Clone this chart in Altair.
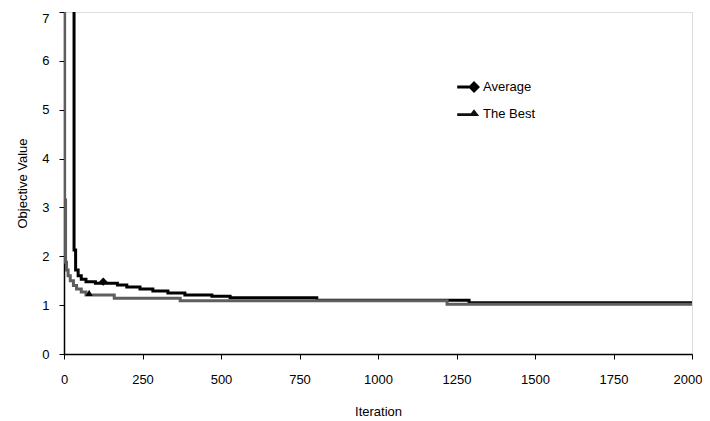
import altair as alt
import pandas as pd

# Step change points (iteration, objective value)
avg_iter = [0, 32, 37, 45, 55, 70, 100, 170, 200, 242, 283, 331, 385, 471, 529, 805, 1290, 2000]
avg_val = [40, 2.13, 1.72, 1.60, 1.53, 1.48, 1.45, 1.41, 1.37, 1.33, 1.29, 1.25, 1.21, 1.18, 1.15, 1.10, 1.05, 1.05]

best_iter = [0, 2, 5, 8, 13, 20, 30, 40, 55, 70, 160, 370, 1220, 2000]
best_val = [40, 3.15, 1.88, 1.72, 1.60, 1.50, 1.40, 1.33, 1.27, 1.21, 1.14, 1.09, 1.02, 1.02]

series = ["Average", "The Best"]
colors = ["#000000", "#5e5e5e"]
marker_iter = [125, 80]
marker_val = [1.48, 1.25]

x_ticks = [0, 250, 500, 750, 1000, 1250, 1500, 1750, 2000]
y_ticks = [0, 1, 2, 3, 4, 5, 6, 7]

avg_df = pd.DataFrame({"Iteration": avg_iter, "Value": avg_val})
best_df = pd.DataFrame({"Iteration": best_iter, "Value": best_val})
markers = pd.DataFrame({"Iteration": marker_iter, "Value": marker_val, "Series": series})

FONT = "Liberation Sans"

xs = alt.Scale(domain=[0, 2000], nice=False)
ys = alt.Scale(domain=[0, 7], nice=False)

xenc = alt.X("Iteration:Q", scale=xs, axis=alt.Axis(
    values=x_ticks, format="d", title="Iteration", grid=False, tickSize=5, labelPadding=14,
    titlePadding=19, domainColor="black", tickColor="black", domainWidth=1.5,
    labelFont=FONT, titleFont=FONT, labelFontSize=13, titleFontSize=13,
    labelAlign=alt.condition("datum.value == 2000", alt.value("right"), alt.value("center")),
    labelOffset=alt.condition("datum.value == 2000", alt.value(10), alt.value(0)),
    titleFontWeight="normal", labelColor="black", titleColor="black", labelFlush=False))
yenc = alt.Y("Value:Q", scale=ys, axis=alt.Axis(
    values=y_ticks, format="d", title="Objective Value", grid=False, tickSize=5, labelPadding=10,
    titlePadding=12, domainColor="black", tickColor="black", domainWidth=1.5,
    labelFont=FONT, titleFont=FONT, labelFontSize=13, titleFontSize=13,
    labelBaseline=alt.condition("datum.value == 7", alt.value("top"), alt.value("middle")),
    titleFontWeight="normal", labelColor="black", titleColor="black"))

avg_line = alt.Chart(avg_df).mark_line(interpolate="step-after", strokeWidth=3, clip=True,
                                       color=colors[0]).encode(x=xenc, y=yenc, order="Iteration:Q")
best_line = alt.Chart(best_df).mark_line(interpolate="step-after", strokeWidth=3, clip=True,
                                         color=colors[1]).encode(x=xenc, y=yenc, order="Iteration:Q")

avg_marker = alt.Chart(markers).transform_filter(alt.datum.Series == "Average").mark_point(
    shape="diamond", filled=True, size=70, color="black", opacity=1).encode(x=xenc, y=yenc)
best_marker = alt.Chart(markers).transform_filter(alt.datum.Series == "The Best").mark_point(
    shape="triangle-up", filled=True, size=50, color="black", opacity=1).encode(x=xenc, y=yenc)

diamond_path = "M-2.1,-0.2L-0.55,-0.2L0,-0.75L0.75,0L0,0.75L-0.55,0.2L-2.1,0.2Z"
tri_path = "M-2.1,-0.1L-0.38,-0.1L0,-0.6L0.65,0.25L-2.1,0.25Z"

leg = alt.Legend(title=None, orient="none", legendX=402, legendY=67,
                 symbolOpacity=1, symbolStrokeWidth=0, symbolSize=256,
                 labelFont=FONT, labelFontSize=13, labelColor="black",
                 rowPadding=12, labelOffset=1, padding=0)

legend_layer = alt.Chart(markers).mark_point(filled=True, opacity=0).encode(
    x=xenc, y=yenc,
    fill=alt.Fill("Series:N", scale=alt.Scale(domain=series, range=["#000000", "#111111"]), legend=leg),
    shape=alt.Shape("Series:N", scale=alt.Scale(domain=series, range=[diamond_path, tri_path]), legend=leg),
)

chart = alt.layer(avg_line, best_line, avg_marker, best_marker, legend_layer).properties(
    width=628, height=342,
    autosize=alt.AutoSizeParams(type="none"),
    padding={"left": 56, "top": 4, "right": 10, "bottom": 66},
).configure_view(stroke="black", strokeWidth=1.5).configure(background="white")

chart.save("out.html", embed_options={"renderer": "svg", "actions": False})
